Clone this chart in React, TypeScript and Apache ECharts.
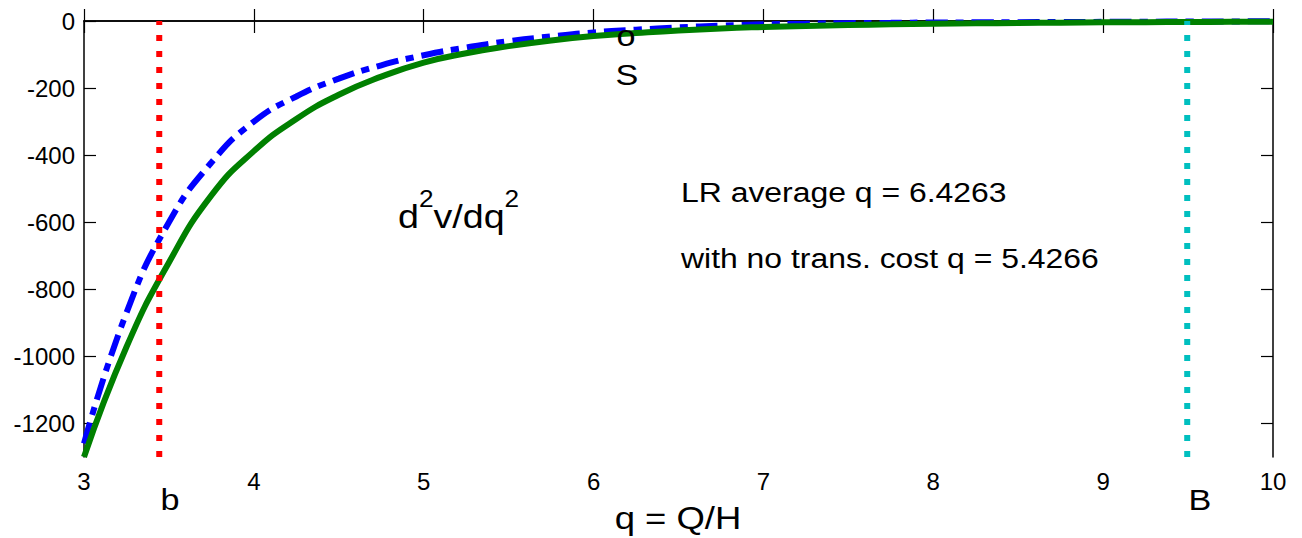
import React, { useEffect, useRef } from "react";
import * as echarts from "echarts";

// q = Q/H grid (step 0.25) and second-derivative curves read along it
const qGrid = [
  3.0, 3.25, 3.5, 3.75, 4.0, 4.25, 4.5, 4.75, 5.0, 5.25, 5.5, 5.75, 6.0, 6.25, 6.5,
  6.75, 7.0, 7.25, 7.5, 7.75, 8.0, 8.25, 8.5, 8.75, 9.0, 9.25, 9.5, 9.75, 10.0,
];
const d2vSolid = [
  -1300, -972, -720, -520, -388, -292, -220, -166, -124, -96, -75, -58, -45, -36, -28,
  -22, -18, -15, -12, -10, -8, -7, -6, -5, -4, -3.5, -3, -2.5, -2,
];
const d2vDashDot = [
  -1260, -870, -600, -422, -300, -225, -172, -132, -102, -79, -60, -46, -34, -26, -19,
  -14, -10, -8, -6.5, -5.5, -4.5, -4, -3.5, -3, -2.5, -2, -1.5, -1.2, -1,
];

// band limits
const lowerB = 3.443;
const upperB = 9.495;

// axis ranges and ticks
const xMin = 3;
const xMax = 10;
const yMin = -1300;
const yMax = 0;
const yTicks = [0, -200, -400, -600, -800, -1000, -1200];

const FONT = '"Liberation Sans", Arial, Helvetica, sans-serif';
const SX = 1.14;

export default function App() {
  const ref = useRef<HTMLDivElement>(null);

  useEffect(() => {
    if (!ref.current) return;
    const chart = echarts.init(ref.current, null, { renderer: "svg" });

    const axisLine = { show: true, lineStyle: { color: "#000", width: 1.5 } };
    const tick = { show: true, inside: true, length: 12, lineStyle: { color: "#000", width: 1.2 } };

    const txt = (text: string, x: number, y: number, size: number, align = "center") => ({
      type: "text",
      x,
      y,
      scaleX: SX,
      z: 100,
      style: {
        text,
        fill: "#000",
        fontSize: size,
        fontFamily: FONT,
        align,
        verticalAlign: "middle",
        textAlign: align,
        textVerticalAlign: "middle",
      },
    });

    chart.setOption({
      animation: false,
      backgroundColor: "#fff",
      grid: { left: 84, right: 29, top: 21, bottom: 81, containLabel: false },
      xAxis: [
        {
          type: "value",
          min: xMin,
          max: xMax,
          interval: 1,
          position: "bottom",
          axisLine,
          axisTick: tick,
          splitLine: { show: false },
          axisLabel: {
            color: "#000",
            fontSize: 24,
            fontFamily: FONT,
            margin: 12,
            showMinLabel: true,
            showMaxLabel: true,
          },
        },
        {
          type: "value",
          min: xMin,
          max: xMax,
          interval: 1,
          position: "top",
          axisLine,
          axisTick: tick,
          splitLine: { show: false },
          axisLabel: { show: false },
        },
      ],
      yAxis: [
        {
          type: "value",
          min: yMin,
          max: yMax,
          position: "left",
          axisLine,
          axisTick: { ...tick, customValues: yTicks },
          splitLine: { show: false },
          axisLabel: {
            color: "#000",
            fontSize: 24,
            fontFamily: FONT,
            margin: 9,
            customValues: yTicks,
            formatter: (v: number) => String(v),
          },
        },
        {
          type: "value",
          min: yMin,
          max: yMax,
          position: "right",
          axisLine,
          axisTick: { ...tick, customValues: yTicks },
          splitLine: { show: false },
          axisLabel: { show: false },
        },
      ],
      series: [
        {
          type: "line",
          data: qGrid.map((q, i) => [q, d2vDashDot[i]]),
          smooth: 0.5,
          showSymbol: false,
          lineStyle: { color: "#0000ff", width: 6, type: [22, 8, 8, 8], cap: "butt" },
          z: 2,
        },
        {
          type: "line",
          data: qGrid.map((q, i) => [q, d2vSolid[i]]),
          smooth: 0.5,
          showSymbol: false,
          lineStyle: { color: "#008000", width: 6 },
          z: 3,
        },
        {
          type: "line",
          data: [[lowerB, yMin], [lowerB, yMax]],
          showSymbol: false,
          lineStyle: { color: "#ff0000", width: 6, type: [6, 10], cap: "butt" },
          z: 4,
        },
        {
          type: "line",
          data: [[upperB, yMin], [upperB, yMax]],
          showSymbol: false,
          lineStyle: { color: "#00bfbf", width: 6, type: [6, 10], cap: "butt" },
          z: 4,
        },
      ],
      graphic: [
        txt("o", 626, 36, 30),
        txt("S", 627, 75, 30),
        txt("b", 170, 500, 30),
        txt("B", 1200, 500, 30),
        txt("q = Q/H", 678, 518, 32),
        txt("LR average q = 6.4263", 681, 192, 28, "left"),
        txt("with no trans. cost q = 5.4266", 681, 258, 28, "left"),
        {
          type: "text",
          x: 398,
          y: 188,
          scaleX: SX,
          z: 100,
          style: {
            text: "{n|d}{s|2}{n|v/dq}{s|2}",
            fill: "#000",
            fontFamily: FONT,
            align: "left",
            verticalAlign: "top",
            textAlign: "left",
            textVerticalAlign: "top",
            rich: {
              n: { fontSize: 33, fontFamily: FONT, lineHeight: 45, verticalAlign: "bottom", fill: "#000" },
              s: { fontSize: 23, fontFamily: FONT, lineHeight: 45, verticalAlign: "top", fill: "#000" },
            },
          },
        },
      ],
    });

    return () => chart.dispose();
  }, []);

  return (
    <div
      ref={ref}
      style={{ position: "fixed", left: 0, top: 0, width: 1302, height: 538, background: "#fff" }}
    />
  );
}
